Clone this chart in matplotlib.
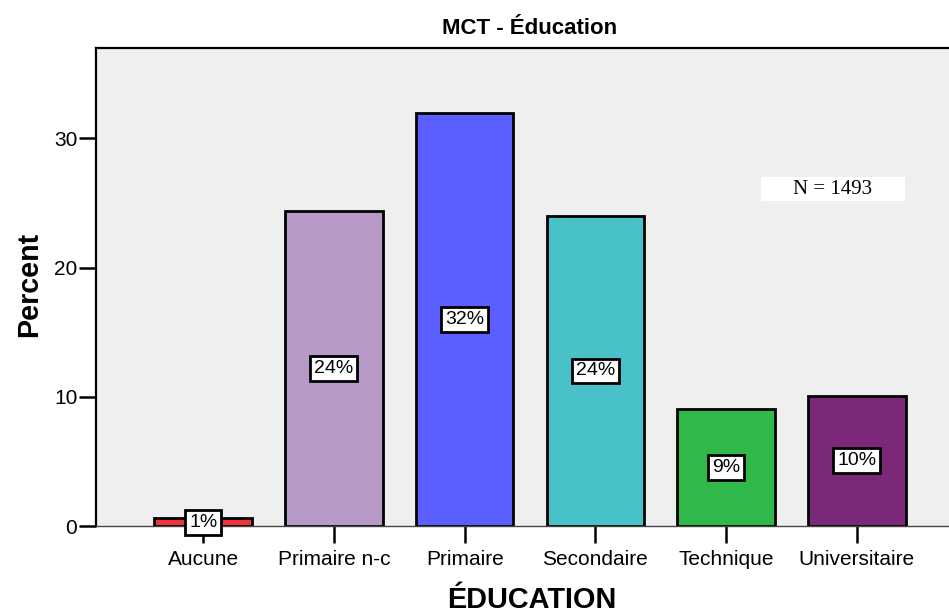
import matplotlib
matplotlib.use("Agg")
import matplotlib.pyplot as plt
from matplotlib.patches import Rectangle

categories = ["Aucune", "Primaire n-c", "Primaire", "Secondaire", "Technique", "Universitaire"]
percents = [0.6, 24.4, 32.0, 24.0, 9.05, 10.1]
labels = ["1%", "24%", "32%", "24%", "9%", "10%"]
colors = ["#EF3339", "#B89AC8", "#5B5FFF", "#48C2C8", "#30B84A", "#7B2878"]
yticks = [0, 10, 20, 30]
n_total = 1493

plt.rcParams["font.family"] = ["Liberation Sans", "DejaVu Sans"]

W, H = 949, 613
fig = plt.figure(figsize=(W / 100, H / 100), dpi=100)
fig.patch.set_facecolor("white")

left, right, top, bottom = 96, 964, 48, 526
ax = fig.add_axes([left / W, 1 - bottom / H, (right - left) / W, (bottom - top) / H])
ax.set_facecolor("#EFEFEF")

x = list(range(len(categories)))
ax.bar(x, percents, width=0.745, color=colors, edgecolor="black", linewidth=2.0, zorder=2)

for xi, v, lab in zip(x, percents, labels):
    ax.text(xi, v / 2, lab, ha="center", va="center", fontsize=14, zorder=4,
            bbox=dict(boxstyle="square,pad=0.2", facecolor="white",
                      edgecolor="black", linewidth=2.0))

ax.set_xlim(-0.82, 5.82)
ax.set_ylim(0, 37)
ax.set_xticks(x)
ax.set_xticklabels(categories, fontsize=15)
ax.set_yticks(yticks)
ax.set_yticklabels([str(t) for t in yticks], fontsize=15)
ax.tick_params(axis="x", direction="out", length=12, width=1.8, pad=5)
ax.tick_params(axis="y", direction="out", length=12, width=1.8, pad=1.5)

for side in ("left", "top"):
    ax.spines[side].set_color("black")
    ax.spines[side].set_linewidth(1.6)
ax.spines["bottom"].set_color("#444444")
ax.spines["bottom"].set_linewidth(1.0)
ax.spines["right"].set_visible(False)

# N annotation box
ax.add_patch(Rectangle((0.766, 0.680), 0.166, 0.050, transform=ax.transAxes,
                       facecolor="white", edgecolor="none", zorder=3))
ax.text(0.849, 0.705, f"N = {n_total}", transform=ax.transAxes, ha="center", va="center",
        fontsize=15, family="Liberation Serif", zorder=4)

fig.text(530 / W, 1 - 34 / H, "MCT - Éducation", ha="center", va="baseline",
         fontsize=16, fontweight="bold")
fig.text(532 / W, 1 - 608 / H, "ÉDUCATION", ha="center", va="baseline",
         fontsize=20.8, fontweight="bold")
fig.text(37 / W, 1 - 284 / H, "Percent", ha="center", va="baseline", rotation=90,
         rotation_mode="anchor", fontsize=20.6, fontweight="bold")

fig.savefig("out.png", dpi=100)
